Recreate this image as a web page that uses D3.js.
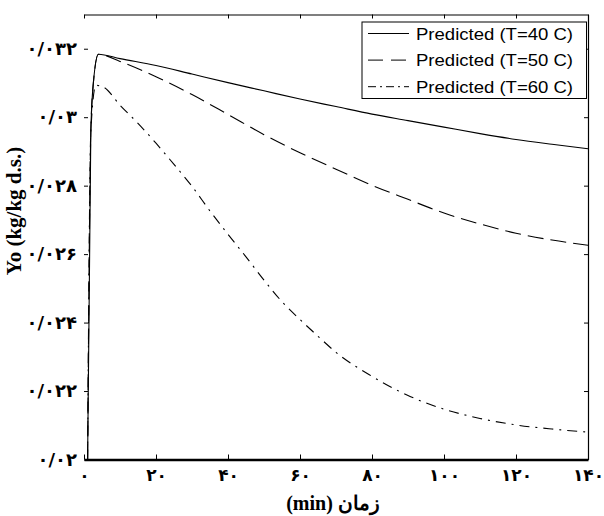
<!DOCTYPE html>
<html>
<head>
<meta charset="utf-8">
<script src="https://cdn.jsdelivr.net/npm/d3@7"></script>
<style>
  html, body { margin: 0; padding: 0; background: #fff; }
  svg { display: block; }
</style>
</head>
<body>
<svg id="chart" width="604" height="516"></svg>
<script>
// ---- data ----
const time4050 = [1, 1.9, 2.6, 4, 10, 20, 30, 40, 50, 60, 70, 80, 90, 100, 110, 120, 130, 140];
const y40 = [0.0200, 0.0296, 0.0310, 0.03184, 0.03171, 0.03151, 0.03126, 0.03101, 0.03077, 0.03053,
             0.03031, 0.03009, 0.02990, 0.02971, 0.02952, 0.02935, 0.02921, 0.02908];
const y50 = [0.0200, 0.0296, 0.0310, 0.03184, 0.03163, 0.03118, 0.03066, 0.03008, 0.02949, 0.02896,
             0.02848, 0.02801, 0.02760, 0.02720, 0.02688, 0.02661, 0.02641, 0.02626];
const time60 = [1, 1.9, 3.3, 5.4, 10, 15, 20, 25, 30, 35, 40, 45, 50, 55, 60, 65, 70, 80, 90, 100, 110, 120, 130, 140];
const y60 = [0.0200, 0.0296, 0.03093, 0.03088, 0.03035, 0.02982, 0.02924, 0.02862, 0.02798, 0.02726,
             0.02658, 0.02592, 0.02524, 0.02461, 0.02409, 0.02360, 0.02313, 0.02243, 0.02187, 0.02147,
             0.02120, 0.02101, 0.02089, 0.02080];

const seriesNames = ["Predicted (T=40 C)", "Predicted (T=50 C)", "Predicted (T=60 C)"];
const xTicks = [0, 20, 40, 60, 80, 100, 120, 140];
const xTickLabels = ["۰", "۲۰", "۴۰", "۶۰", "۸۰", "۱۰۰", "۱۲۰", "۱۴۰"];
const yTicks = [0.020, 0.022, 0.024, 0.026, 0.028, 0.030, 0.032];
const yTickLabels = ["۰/۰۲", "۰/۰۲۲", "۰/۰۲۴", "۰/۰۲۶", "۰/۰۲۸", "۰/۰۳", "۰/۰۳۲"];
const xTitle = "زمان (min)";
const yTitle = "Yo (kg/kg d.s.)";

// ---- layout ----
const W = 604, H = 516;
const m = { left: 84, right: 16, top: 14.5, bottom: 56.5 };
const iw = W - m.left - m.right, ih = H - m.top - m.bottom;

const svg = d3.select("#chart");
const g = svg.append("g").attr("transform", `translate(${m.left},${m.top})`);

const x = d3.scaleLinear().domain([0, 140]).range([0, iw]);
const y = d3.scaleLinear().domain([0.020, 0.033]).range([ih, 0]);

const numFont = "'DejaVu Sans', sans-serif";

// bottom axis
const xb = g.append("g").attr("transform", `translate(0,${ih})`)
  .call(d3.axisBottom(x).tickValues(xTicks).tickFormat((d, i) => xTickLabels[i])
    .tickSizeInner(-5).tickSizeOuter(0).tickPadding(9));
xb.select(".domain").attr("stroke-width", 2.5);
xb.selectAll("text").attr("font-family", numFont).attr("font-weight", "bold").attr("font-size", 17).attr("fill", "#000");

// top axis (mirror ticks)
const xt = g.append("g")
  .call(d3.axisTop(x).tickValues(xTicks).tickFormat("").tickSizeInner(-4).tickSizeOuter(0));
xt.select(".domain").attr("stroke-width", 1.2);

// left axis (ticks and labels, no line)
const yl = g.append("g")
  .call(d3.axisLeft(y).tickValues(yTicks).tickFormat((d, i) => yTickLabels[i])
    .tickSizeInner(-4).tickSizeOuter(0).tickPadding(7));
yl.select(".domain").remove();
yl.selectAll("text").attr("font-family", numFont).attr("font-weight", "bold").attr("font-size", 18).attr("fill", "#000");

// right axis (mirror ticks)
const yr = g.append("g").attr("transform", `translate(${iw},0)`)
  .call(d3.axisRight(y).tickValues(yTicks).tickFormat("").tickSizeInner(-4).tickSizeOuter(0));
yr.select(".domain").attr("stroke-width", 1.2);

// lines
const dashes = [null, "16,7", "10,6,2,6"];
const series = [
  { t: time4050, v: y40 },
  { t: time4050, v: y50 },
  { t: time60, v: y60 }
];
const line = d3.line().x(d => x(d[0])).y(d => y(d[1])).curve(d3.curveMonotoneX);
[2, 1, 0].forEach(k => {
  const s = series[k];
  g.append("path")
    .datum(s.t.map((t, i) => [t, s.v[i]]))
    .attr("d", line)
    .attr("fill", "none")
    .attr("stroke", "#000")
    .attr("stroke-width", 1.1)
    .attr("stroke-dasharray", dashes[k]);
});

// legend
const lg = svg.append("g").attr("transform", "translate(362,22)");
lg.append("rect").attr("x", 0).attr("y", 0).attr("width", 224.5).attr("height", 76.5)
  .attr("fill", "#fff").attr("stroke", "#000").attr("stroke-width", 1);
seriesNames.forEach((name, i) => {
  const cy = 11.5 + i * 26.6;
  lg.append("line").attr("x1", 6).attr("x2", 47).attr("y1", cy).attr("y2", cy)
    .attr("stroke", "#000").attr("stroke-width", 1).attr("stroke-dasharray", i === 0 ? null : (i === 1 ? "15,8" : "8,4,2,4"));
  lg.append("text").attr("x", 54).attr("y", cy).attr("dy", "0.36em")
    .attr("font-family", "'Liberation Sans', Arial, sans-serif").attr("font-size", 17)
    .attr("textLength", 157).attr("lengthAdjust", "spacingAndGlyphs")
    .attr("fill", "#000").text(name);
});

// axis titles
svg.append("text")
  .attr("x", 333).attr("y", 510)
  .attr("text-anchor", "middle").attr("direction", "rtl")
  .attr("font-family", "'Liberation Serif', 'DejaVu Serif', serif").attr("font-weight", "bold").attr("font-size", 20)
  .attr("fill", "#000").text(xTitle);

svg.append("text")
  .attr("transform", "translate(21,211) rotate(-90)")
  .attr("text-anchor", "middle")
  .attr("font-family", "'Liberation Serif', 'DejaVu Serif', serif").attr("font-weight", "bold").attr("font-size", 21)
  .attr("fill", "#000").text(yTitle);
</script>
</body>
</html>
